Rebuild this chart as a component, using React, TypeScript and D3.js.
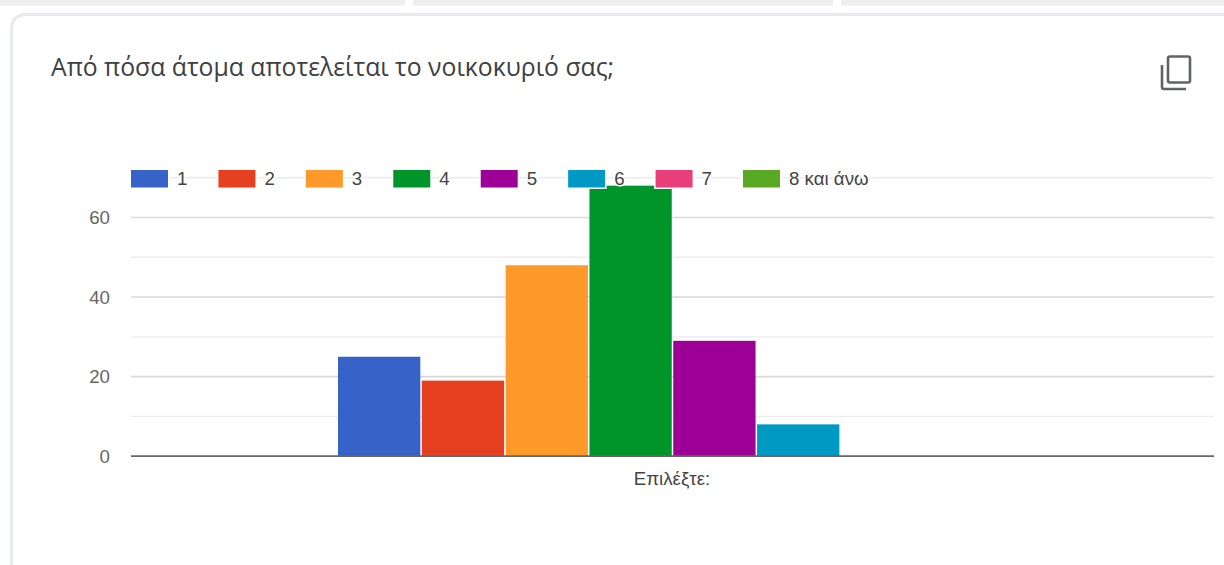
import React from "react";
import * as d3 from "d3";

const title = "Από πόσα άτομα αποτελείται το νοικοκυριό σας;";
const axisLabel = "Επιλέξτε:";
const categories = ["1", "2", "3", "4", "5", "6", "7", "8 και άνω"];
const counts = [25, 19, 48, 68, 29, 8, 0, 0];
const colors = ["#3763c9", "#e54020", "#ff9a2a", "#00952b", "#9c0096", "#0099c4", "#e83f7b", "#58a921"];
const majorTicks = [0, 20, 40, 60];
const minorTicks = [10, 30, 50, 70];
const headerStrips = [[0, 405], [413, 833], [841, 1224]];

const W = 1224;
const H = 565;
const plotLeft = 131;
const plotRight = 1214;

export default function App() {
  const y = d3.scaleLinear().domain([0, 60]).range([456.2, 217.5]);
  const x = d3.scaleBand<string>().domain(categories).range([338, 1007]).paddingInner(0.018);
  const legendX = d3.scalePoint<string>().domain(categories).range([131, 743]);

  return (
    <svg
      width={W}
      height={H}
      viewBox={`0 0 ${W} ${H}`}
      style={{ position: "absolute", left: 0, top: 0, display: "block", background: "#fff" }}
      fontFamily="'Liberation Sans', Arial, sans-serif"
    >
      {/* page strip above the card */}
      {headerStrips.map(([a, b]) => (
        <rect key={a} x={a} y={0} width={b - a} height={5.5} fill="#eeeeee" />
      ))}

      {/* card outline */}
      <path
        d={`M11.5 ${H} V30 Q11.5 14.5 27 14.5 H${W}`}
        fill="none"
        stroke="#e7e9f1"
        strokeWidth={3}
      />

      <text x={51} y={76} fontFamily="'Open Sans', sans-serif" fontSize={24.75} fill="#3c4043">
        {title}
      </text>

      {/* copy icon */}
      <g fill="none" stroke="#5f6368" strokeWidth={2.6}>
        <rect x={1168} y={56.5} width={22} height={26} rx={2} />
        <path d="M1162 65 V87 Q1162 89 1164 89 H1186" />
      </g>

      {/* horizontal grid */}
      {minorTicks.map((t) => (
        <line key={t} x1={plotLeft} x2={plotRight} y1={y(t)} y2={y(t)} stroke="#ececec" strokeWidth={1.4} />
      ))}
      {majorTicks.filter((t) => t > 0).map((t) => (
        <line key={t} x1={plotLeft} x2={plotRight} y1={y(t)} y2={y(t)} stroke="#d9d9d9" strokeWidth={1.6} />
      ))}

      {/* value axis labels */}
      {majorTicks.map((t) => (
        <text key={t} x={110} y={y(t) + 6.5} textAnchor="end" fontSize={18.7} fill="#666666">
          {t}
        </text>
      ))}

      {/* bars */}
      {categories.map((c, i) => (
        <rect
          key={c}
          x={x(c)}
          y={y(counts[i])}
          width={x.bandwidth()}
          height={y(0) - y(counts[i])}
          fill={colors[i]}
        />
      ))}

      {/* baseline */}
      <line x1={plotLeft} x2={plotRight} y1={y(0)} y2={y(0)} stroke="#666666" strokeWidth={1.8} />

      <text x={672} y={484.5} textAnchor="middle" fontSize={18.7} fill="#444444">
        {axisLabel}
      </text>

      {/* legend, drawn over the plot with a white halo */}
      {categories.map((c, i) => {
        const lx = legendX(c) as number;
        return (
          <g key={c}>
            <rect x={lx} y={170} width={37} height={17.5} fill={colors[i]} stroke="#fff" strokeWidth={3} paintOrder="stroke" />
            <text
              x={lx + 46}
              y={185}
              fontSize={18.7}
              fill="#444444"
              stroke="#fff"
              strokeWidth={3}
              paintOrder="stroke"
            >
              {c}
            </text>
          </g>
        );
      })}
    </svg>
  );
}
